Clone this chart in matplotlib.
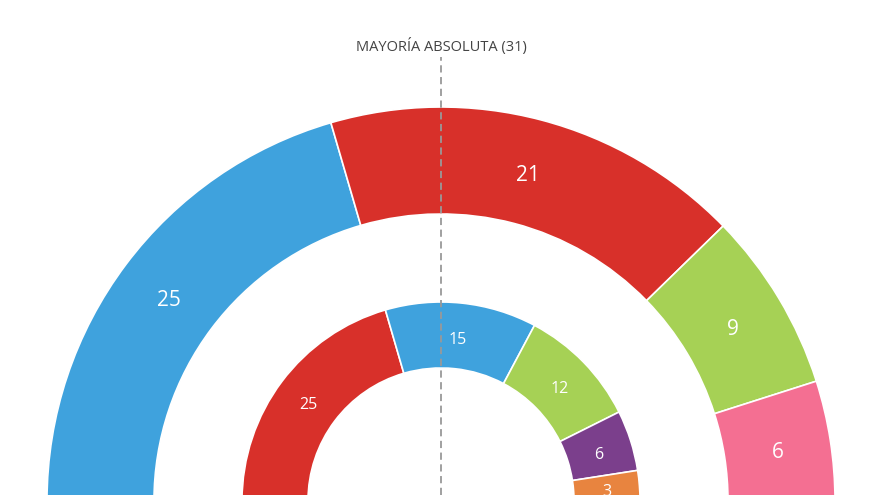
import matplotlib.pyplot as plt
from matplotlib.patches import Wedge
import numpy as np

plt.rcParams['font.family'] = ['Open Sans', 'DejaVu Sans']

# seats, outer ring (left to right)
outer_seats = [25, 21, 9, 6]
outer_colors = ['#3fa2dd', '#d8302a', '#a6d155', '#f46f92']

# seats, inner ring (left to right)
inner_seats = [25, 15, 12, 6, 3]
inner_colors = ['#d8302a', '#3fa2dd', '#a6d155', '#7b3f8c', '#e8843f']

majority = 31
title = "MAYORÍA ABSOLUTA (31)"

fig = plt.figure(figsize=(8.8, 4.95), dpi=100)
ax = fig.add_axes([0, 0, 1, 1])
ax.set_xlim(0, 880)
ax.set_ylim(0, 495)
ax.axis('off')

cx, cy = 441, -6


def ring(seats, colors, r_out, r_in, fsize):
    total = sum(seats)
    start = 180.0
    for s, c in zip(seats, colors):
        end = start - s / total * 180
        ax.add_patch(Wedge((cx, cy), r_out, end, start, width=r_out - r_in,
                           facecolor=c, edgecolor='white', linewidth=1.2))
        mid = np.radians((start + end) / 2)
        rm = (r_out + r_in) / 2
        ax.text(cx + rm * np.cos(mid), cy + rm * np.sin(mid) - 4, str(s),
                color='white', fontsize=fsize, ha='center', va='center')
        start = end


ring(outer_seats, outer_colors, 394, 287, 15)
ring(inner_seats, inner_colors, 199, 133, 11.5)

ax.plot([cx, cx], [0, 438], color='#999999', linestyle=(0, (4, 2.5)), linewidth=1.3)
ax.text(cx, 449, title, ha='center', va='center', fontsize=10.5, color='#444444')

fig.savefig('out.png', dpi=100)
